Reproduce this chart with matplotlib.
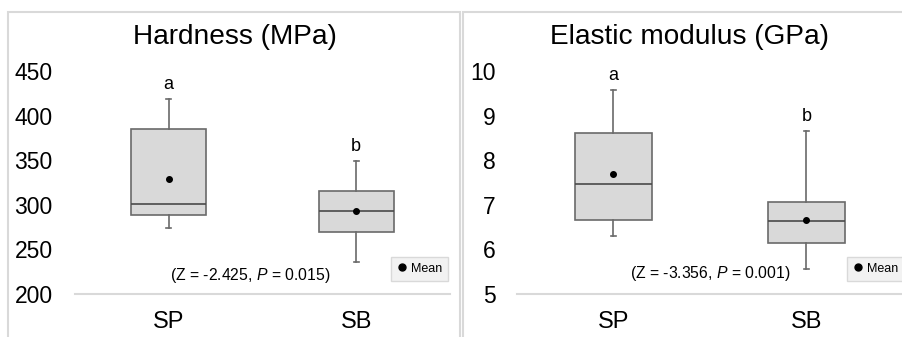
import matplotlib
matplotlib.use("Agg")
import matplotlib.pyplot as plt
from matplotlib.patches import Rectangle
from matplotlib.lines import Line2D

plt.rcParams['font.family'] = ['Liberation Sans', 'DejaVu Sans']
plt.rcParams['mathtext.fontset'] = 'custom'
plt.rcParams['mathtext.rm'] = 'Liberation Sans'
plt.rcParams['mathtext.it'] = 'Liberation Sans:italic'

categories = ["SP", "SB"]
letters = ["a", "b"]

# Hardness (MPa)
hard_whislo = [274, 236]
hard_q1 = [289, 269]
hard_med = [300.5, 293]
hard_q3 = [385, 316]
hard_whishi = [419, 349]
hard_mean = [329, 293]
hard_yticks = [200, 250, 300, 350, 400, 450]
hard_note = r"(Z = -2.425, $\mathit{P}$ = 0.015)"

# Elastic modulus (GPa)
el_whislo = [6.29, 5.57]
el_q1 = [6.66, 6.14]
el_med = [7.47, 6.63]
el_q3 = [8.62, 7.06]
el_whishi = [9.57, 8.65]
el_mean = [7.69, 6.67]
el_yticks = [5, 6, 7, 8, 9, 10]
el_note = r"(Z = -3.356, $\mathit{P}$ = 0.001)"

W, H = 903, 337
fig = plt.figure(figsize=(W / 100, H / 100), dpi=100)

def px_rect(x0, y0, x1, y1):
    return [x0 / W, 1 - y1 / H, (x1 - x0) / W, (y1 - y0) / H]

# panel frames
for (x0, x1) in [(8, 460), (463.5, 906)]:
    fig.patches.append(Rectangle((x0 / W, -0.05), (x1 - x0) / W, 1.05 - 12 / H,
                                 transform=fig.transFigure, fill=False,
                                 edgecolor='#d9d9d9', linewidth=1.5))

edge = '#6a6a6a'

def draw_panel(rect, title, title_x, whislo, q1, med, q3, whishi, mean, yticks, note, note_xy, leg_anchor, ypad):
    ax = fig.add_axes(rect)
    stats = []
    for i in range(len(categories)):
        stats.append(dict(whislo=whislo[i], q1=q1[i], med=med[i], q3=q3[i],
                          whishi=whishi[i], mean=mean[i], fliers=[], label=categories[i]))
    ax.bxp(stats, positions=[1, 2], widths=0.4, patch_artist=True, showmeans=True,
           showfliers=False,
           boxprops=dict(facecolor='#d9d9d9', edgecolor=edge, linewidth=1.2),
           medianprops=dict(color='#4a4a4a', linewidth=1.2),
           whiskerprops=dict(color=edge, linewidth=1.2),
           capprops=dict(color=edge, linewidth=1.2),
           capwidths=0.025,
           meanprops=dict(marker='o', markerfacecolor='black', markeredgecolor='black', markersize=4))
    ax.set_xlim(0.5, 2.5)
    ax.set_ylim(yticks[0], yticks[-1])
    ax.set_yticks(yticks)
    ax.set_yticklabels([str(t) for t in yticks], fontsize=16.5)
    ax.set_xticks([1, 2])
    ax.set_xticklabels(categories, fontsize=17)
    ax.tick_params(axis='y', length=0, pad=ypad)
    ax.tick_params(axis='x', length=0, pad=12)
    for s in ['top', 'right', 'left']:
        ax.spines[s].set_visible(False)
    ax.spines['bottom'].set_color('#d9d9d9')
    ax.spines['bottom'].set_linewidth(1.5)
    ax.set_facecolor('none')
    for i, l in enumerate(letters):
        ax.annotate(l, (i + 1, whishi[i]), xytext=(0, 7), textcoords='offset points',
                    ha='center', va='baseline', fontsize=13)
    ax.text(note_xy[0], note_xy[1], note, transform=ax.transAxes, ha='center', va='center', fontsize=11.3)
    h = Line2D([], [], linestyle='none', marker='o', markersize=5, color='black')
    leg = ax.legend([h], ['Mean'], loc='lower left', bbox_to_anchor=leg_anchor, borderaxespad=0,
                    fontsize=9, handlelength=0.8, handletextpad=0.3, borderpad=0.5,
                    fancybox=False, framealpha=1)
    leg.get_frame().set_facecolor('#f2f2f2')
    leg.get_frame().set_edgecolor('#d9d9d9')
    fig.text(title_x / W, 1 - 37 / H, title, ha='center', va='center', fontsize=20.2)
    return ax

draw_panel(px_rect(75, 71, 450, 294), "Hardness (MPa)", 235,
           hard_whislo, hard_q1, hard_med, hard_q3, hard_whishi, hard_mean,
           hard_yticks, hard_note, (0.467, 0.085), (0.842, 0.058), 16)
draw_panel(px_rect(516.7, 71, 903, 294), "Elastic modulus (GPa)", 690,
           el_whislo, el_q1, el_med, el_q3, el_whishi, el_mean,
           el_yticks, el_note, (0.50, 0.093), (0.855, 0.058), 15)

fig.savefig("out.png", dpi=100)
